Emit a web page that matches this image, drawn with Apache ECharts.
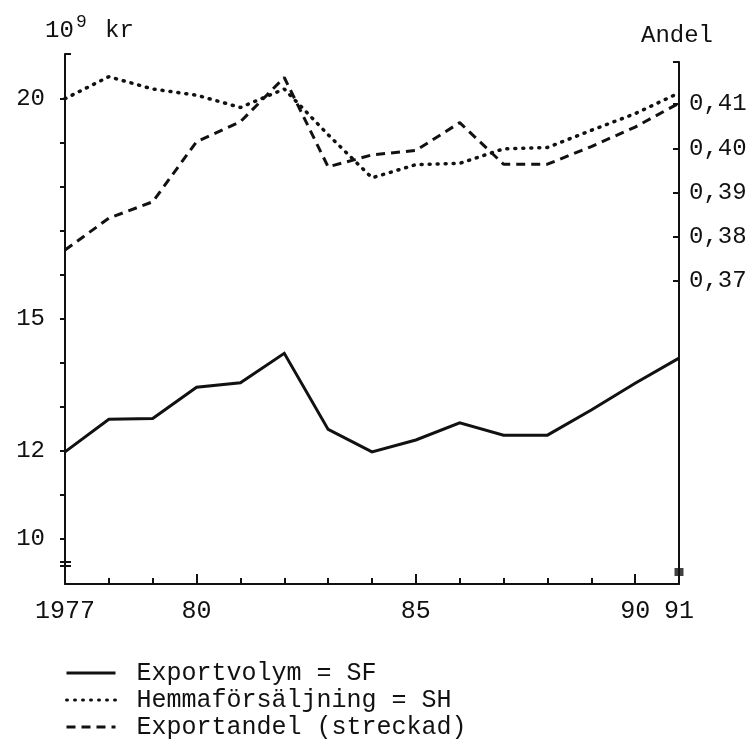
<!DOCTYPE html>
<html>
<head>
<meta charset="utf-8">
<script src="https://cdn.jsdelivr.net/npm/echarts@6/dist/echarts.min.js"></script>
<style>
html,body{margin:0;padding:0;background:#fff;}
#chart{width:755px;height:743px;}
</style>
</head>
<body>
<div id="chart"></div>
<script>
// ---- data ----
const years = [1977,1978,1979,1980,1981,1982,1983,1984,1985,1986,1987,1988,1989,1990,1991];
const exportvolym = [11.97,12.71,12.73,13.44,13.54,14.21,12.48,11.97,12.24,12.63,12.35,12.35,12.92,13.53,14.10];
const hemmaforsaljning = [20.00,20.50,20.22,20.08,19.80,20.22,19.18,18.20,18.50,18.53,18.86,18.89,19.28,19.66,20.13];
const exportandel = [0.3770,0.3842,0.3879,0.4015,0.4060,0.4160,0.3958,0.3985,0.3995,0.4058,0.3964,0.3964,0.4004,0.4048,0.4102];
const seriesNames = ['Exportvolym = SF','Hemmaförsäljning = SH','Exportandel (streckad)'];
const xLabelValues = [1977,1980,1985,1990,1991];
const xMajorTicks = [1980,1985,1990];
const leftLabelValues = [10,12,15,20];
const leftTickValues = [10,11,12,13,14,15,16,17,18,19,20];
const rightLabelValues = [0.37,0.38,0.39,0.40,0.41];
const leftAxisRange = [8.965, 21.016];
const rightAxisRange = [0.30149, 0.41951];
const axisBreak = [9.466, 9.375];
const rightAxisEndMarker = [1991, 0.3042];

const FONT = '"Liberation Mono", "DejaVu Sans Mono", monospace';
const INK = '#111';

const toPairs = arr => years.map((y, i) => [y, arr[i]]);
const txt = (size, lh) => ({fontFamily: FONT, fontSize: size, fontWeight: 'normal', color: INK, lineHeight: lh});

const chart = echarts.init(document.getElementById('chart'), null, {renderer: 'canvas'});
const option = {
  backgroundColor: '#fff',
  animation: false,
  title: [
    {text: '10', left: 45, top: 16, padding: 0, textStyle: txt(24, 30)},
    {text: '9', left: 76, top: 12, padding: 0, textStyle: txt(18, 20)},
    {text: 'kr', left: 105, top: 16, padding: 0, textStyle: txt(24, 30)},
    {text: 'Andel', left: 641, top: 21, padding: 0, textStyle: txt(24, 30)}
  ],
  grid: [
    {left: 65, top: 54, width: 614, height: 530},
    {left: 65, top: 62, width: 614, height: 522}
  ],
  xAxis: [
    {
      type: 'value', gridIndex: 0, min: 1977, max: 1991, interval: 1,
      axisLine: {show: true, lineStyle: {color: INK, width: 2}},
      axisTick: {show: true, inside: true, length: 6, lineStyle: {color: INK, width: 2}},
      axisLabel: {
        customValues: xLabelValues, margin: 15,
        fontFamily: FONT, fontSize: 25, color: INK,
        formatter: v => (v === 1977 ? '1977' : String(v).slice(2))
      },
      splitLine: {show: false}
    },
    {
      type: 'value', gridIndex: 0, min: 1977, max: 1991, position: 'bottom',
      axisLine: {show: false},
      axisTick: {show: true, inside: true, length: 10, customValues: xMajorTicks, lineStyle: {color: INK, width: 2}},
      axisLabel: {show: false},
      splitLine: {show: false}
    },
    {
      type: 'value', gridIndex: 1, min: 1977, max: 1991, show: false
    }
  ],
  yAxis: [
    {
      type: 'value', gridIndex: 0, position: 'left', min: leftAxisRange[0], max: leftAxisRange[1],
      axisLine: {show: true, lineStyle: {color: INK, width: 2}},
      axisTick: {show: true, length: 5, customValues: leftTickValues.concat(axisBreak), lineStyle: {color: INK, width: 2}},
      axisLabel: {customValues: leftLabelValues, margin: 20, fontFamily: FONT, fontSize: 24, color: INK},
      splitLine: {show: false}
    },
    {
      type: 'value', gridIndex: 0, position: 'left', min: leftAxisRange[0], max: leftAxisRange[1],
      axisLine: {show: false},
      axisTick: {show: true, inside: true, length: 6, customValues: [leftAxisRange[1]].concat(axisBreak), lineStyle: {color: INK, width: 2}},
      axisLabel: {show: false},
      splitLine: {show: false}
    },
    {
      type: 'value', gridIndex: 1, position: 'right', min: rightAxisRange[0], max: rightAxisRange[1],
      axisLine: {show: true, lineStyle: {color: INK, width: 2}},
      axisTick: {show: true, inside: true, length: 6, customValues: rightLabelValues.concat([rightAxisRange[1]]), lineStyle: {color: INK, width: 2}},
      axisLabel: {
        customValues: rightLabelValues, margin: 10, fontFamily: FONT, fontSize: 24, color: INK,
        formatter: v => v.toFixed(2).replace('.', ',')
      },
      splitLine: {show: false}
    }
  ],
  legend: {
    orient: 'vertical', left: 65, top: 660, padding: 0,
    itemWidth: 49, itemHeight: 14, itemGap: 1,
    data: seriesNames,
    itemStyle: {opacity: 0},
    lineStyle: {width: 3},
    textStyle: {fontFamily: FONT, fontSize: 25, color: INK, lineHeight: 26, padding: [0, 0, 0, 16]},
    selectedMode: false
  },
  series: [
    {
      name: seriesNames[0], type: 'line', xAxisIndex: 0, yAxisIndex: 0,
      data: toPairs(exportvolym), symbol: 'none',
      lineStyle: {color: INK, width: 3, type: 'solid', join: 'miter'},
      itemStyle: {color: INK}
    },
    {
      name: seriesNames[1], type: 'line', xAxisIndex: 0, yAxisIndex: 0,
      data: toPairs(hemmaforsaljning), symbol: 'none',
      lineStyle: {color: INK, width: 3.5, type: [1, 7], cap: 'round'},
      itemStyle: {color: INK}
    },
    {
      name: seriesNames[2], type: 'line', xAxisIndex: 2, yAxisIndex: 2,
      data: toPairs(exportandel), symbol: 'none',
      lineStyle: {color: INK, width: 3, type: [9, 6]},
      itemStyle: {color: INK}
    },
    {
      name: 'axisEnd', type: 'scatter', xAxisIndex: 2, yAxisIndex: 2,
      data: [rightAxisEndMarker], symbol: 'rect', symbolSize: [9, 8],
      itemStyle: {color: INK}, silent: true, clip: false
    }
  ]
};
chart.setOption(option);
</script>
</body>
</html>
